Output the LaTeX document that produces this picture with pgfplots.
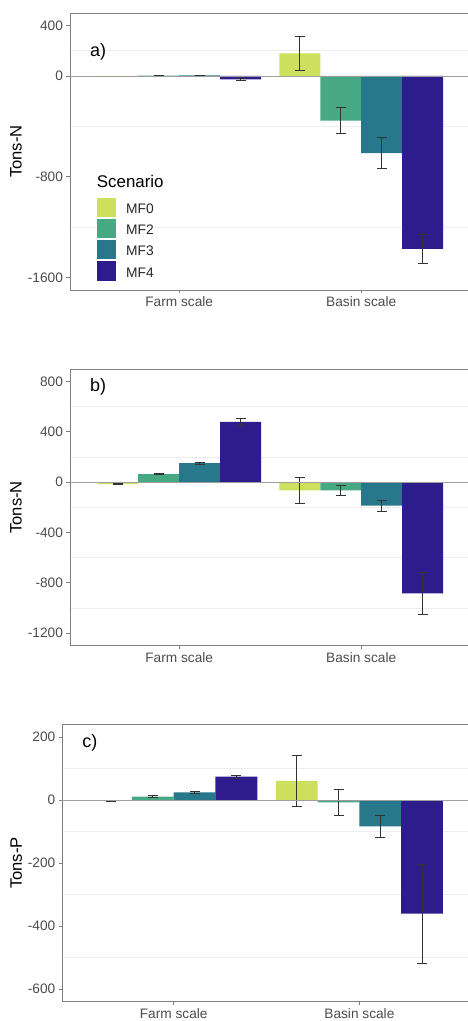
\documentclass[border=0pt]{standalone}
\usepackage{pgfplots}
\pgfplotsset{compat=1.18}
\usepackage{fontspec}
\setmainfont{Liberation Sans}
\definecolor{cMFa}{HTML}{CDE05E}
\definecolor{cMFb}{HTML}{47A884}
\definecolor{cMFc}{HTML}{26788A}
\definecolor{cMFd}{HTML}{2E1C8C}
\definecolor{tickgrey}{HTML}{4D4D4D}
\definecolor{framegrey}{HTML}{808080}
\pgfplotsset{
  panel/.style={
    scale only axis,
    xmin=-0.6, xmax=1.6,
    xtick={0,1}, xticklabels={Farm scale, Basin scale},
    axis line style={framegrey, line width=0.8pt},
    tick style={framegrey, line width=0.8pt},
    tick align=outside, major tick length=3.5pt,
    minor tick length=0pt,
    xtick pos=bottom, ytick pos=left,
    ymajorgrids=false, yminorgrids=true,
    minor grid style={black!7, line width=0.6pt},
    ticklabel style={font=\fontsize{13.7}{14}\selectfont, text=tickgrey},
    /pgf/number format/assume math mode=true,
    yticklabel style={/pgf/number format/fixed, /pgf/number format/1000 sep={}},
    label style={font=\fontsize{16.6}{17}\selectfont, text=black},
    ybar, bar width=0.225,
    clip=false,
    error bars/y dir=both, error bars/y explicit,
    error bars/error bar style={line width=0.8pt, black!80},
    error bars/error mark options={line width=0.8pt, black!80, mark size=5pt, rotate=90},
  },
  sA/.style={fill=cMFa, draw=none, bar shift=-0.3375},
  sB/.style={fill=cMFb, draw=none, bar shift=-0.1125},
  sC/.style={fill=cMFc, draw=none, bar shift=0.1125},
  sD/.style={fill=cMFd, draw=none, bar shift=0.3375},
  zline/.style={sharp plot, draw=black!38, line width=0.8pt, forget plot, mark=none},
}
\begin{document}
\begin{tikzpicture}
\useasboundingbox (0pt,0pt) rectangle (468pt,1021pt);
\clip (0pt,0pt) rectangle (468pt,1021pt);
\fill[white] (0pt,0pt) rectangle (468pt,1021pt);
% ---------------- panel a
\begin{axis}[panel,
  at={(70pt,731pt)}, anchor=south west,
  width=400.4pt, height=277pt,
  ymin=-1700, ymax=500,
  ytick={-1600,-800,0,400}, minor ytick={-1200,-400,200},
  ylabel={Tons-N},
  ylabel style={at={(axis description cs:-0.1349,0.5)}, anchor=center},
  legend cell align=left,
  legend style={at={(axis description cs:0.0667,0.0325)}, anchor=south west,
    draw=none, fill=white, inner sep=0pt,
    font=\fontsize{13.8}{14}\selectfont, text=black!85,
    row sep=2pt,
    nodes={inner sep=0pt, text height=10pt, text depth=0pt},
    /tikz/every odd column/.append style={column sep=10pt}},
  legend image code/.code={\fill[#1, draw=none] (0pt,-8.6pt) rectangle (19.3pt,10.7pt);},
]
\addplot[sA] coordinates {(0,-3) +- (0,2) (1,180) +- (0,133)};
\addlegendentry{MF0}
\addplot[sB] coordinates {(0,2) +- (0,2) (1,-355) +- (0,105)};
\addlegendentry{MF2}
\addplot[sC] coordinates {(0,5) +- (0,3) (1,-612) +- (0,125)};
\addlegendentry{MF3}
\addplot[sD] coordinates {(0,-27) +- (0,8) (1,-1373) +- (0,117)};
\addlegendentry{MF4}
\addplot[zline] coordinates {(-0.6,0) (1.6,0)};
\node[anchor=west, inner sep=0pt, font=\fontsize{16.9}{17}\selectfont] at (axis description cs:0.0667,0.3935) {Scenario};
\node[anchor=west, inner sep=0pt, font=\fontsize{18}{18}\selectfont] at (axis description cs:0.05,0.8615) {a)};
\end{axis}
% ---------------- panel b
\begin{axis}[panel,
  at={(70pt,375.3pt)}, anchor=south west,
  width=400.4pt, height=276.7pt,
  ymin=-1300, ymax=900,
  ytick={-1200,-800,-400,0,400,800}, minor ytick={-1000,-600,-200,200,600},
  ylabel={Tons-N},
  ylabel style={at={(axis description cs:-0.1349,0.5)}, anchor=center},
]
\addplot[sA] coordinates {(0,-15) +- (0,4) (1,-65) +- (0,105)};
\addplot[sB] coordinates {(0,64) +- (0,5) (1,-66) +- (0,37)};
\addplot[sC] coordinates {(0,151) +- (0,8) (1,-187) +- (0,44)};
\addplot[sD] coordinates {(0,480) +- (0,25) (1,-884) +- (0,165)};
\addplot[zline] coordinates {(-0.6,0) (1.6,0)};
\node[anchor=west, inner sep=0pt, font=\fontsize{18}{18}\selectfont] at (axis description cs:0.05,0.9364) {b)};
\end{axis}
% ---------------- panel c
\begin{axis}[panel,
  at={(62.3pt,19.3pt)}, anchor=south west,
  width=408.5pt, height=277.4pt,
  ymin=-640, ymax=241,
  ytick={-600,-400,-200,0,200}, minor ytick={-500,-300,-100,100},
  ylabel={Tons-P},
  ylabel style={at={(axis description cs:-0.1126,0.5)}, anchor=center},
]
\addplot[sA] coordinates {(0,-2) +- (0,2) (1,61) +- (0,82)};
\addplot[sB] coordinates {(0,11.5) +- (0,3) (1,-7) +- (0,40)};
\addplot[sC] coordinates {(0,25) +- (0,2) (1,-83) +- (0,34)};
\addplot[sD] coordinates {(0,75) +- (0,5) (1,-360) +- (0,157)};
\addplot[zline] coordinates {(-0.6,0) (1.6,0)};
\node[anchor=west, inner sep=0pt, font=\fontsize{18}{18}\selectfont] at (axis description cs:0.0485,0.9322) {c)};
\end{axis}
\end{tikzpicture}
\end{document}
